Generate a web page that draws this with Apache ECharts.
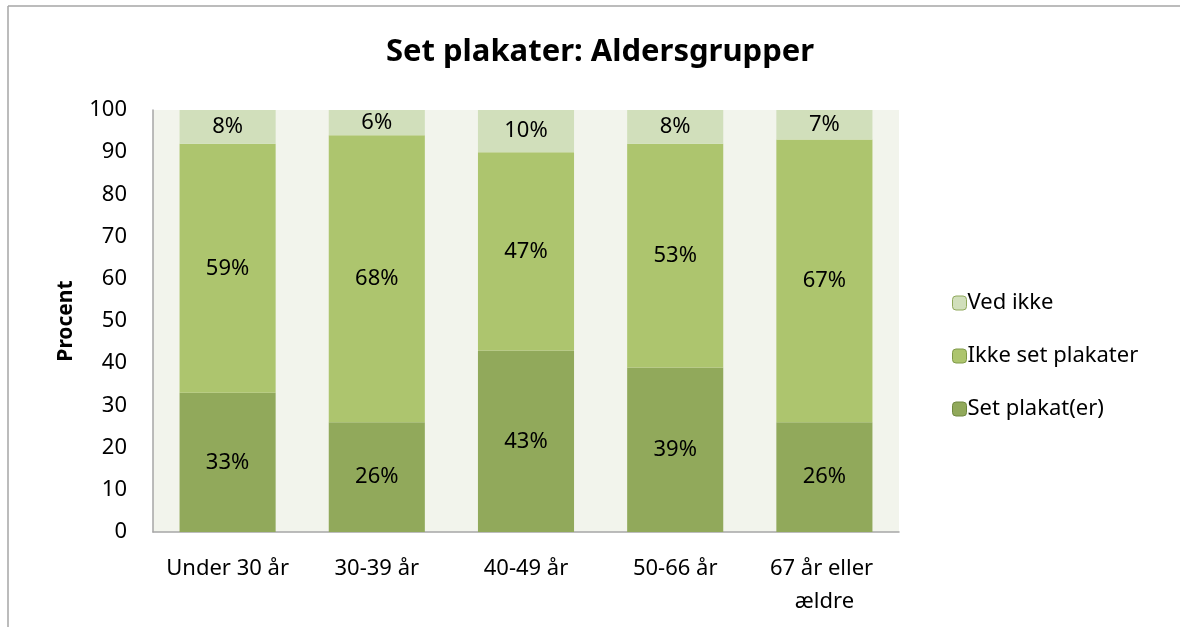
<!DOCTYPE html>
<html>
<head>
<meta charset="utf-8">
<script src="https://cdn.jsdelivr.net/npm/echarts@6/dist/echarts.min.js"></script>
<style>
html,body{margin:0;padding:0;background:#fff;}
#chart{width:1180px;height:627px;}
</style>
</head>
<body>
<div id="chart"></div>
<script>
const categories = ["Under 30 år", "30-39 år", "40-49 år", "50-66 år", "67 år eller ældre"];
const setPlakat = [33, 26, 43, 39, 26];
const ikkeSet = [59, 68, 47, 53, 67];
const vedIkke = [8, 6, 10, 8, 7];
const yTicks = [0, 10, 20, 30, 40, 50, 60, 70, 80, 90, 100];

const FONT = "'Noto Sans', 'Open Sans', sans-serif";
const FS = 22;
const chart = echarts.init(document.getElementById('chart'));

function mkSeries(name, data, color) {
  return {
    name: name,
    type: 'bar',
    stack: 'total',
    data: data,
    barWidth: '64.4%',
    itemStyle: { color: color },
    label: {
      show: true,
      position: 'inside',
      formatter: p => p.value + '%',
      color: '#000',
      fontFamily: FONT,
      fontSize: FS
    },
    emphasis: { disabled: true }
  };
}

chart.setOption({
  backgroundColor: '#fff',
  animation: false,
  title: {
    text: 'Set plakater: Aldersgrupper',
    left: 595,
    top: 32,
    textAlign: 'center',
    textStyle: { fontFamily: FONT, fontSize: 31, fontWeight: 'bold', color: '#000' }
  },
  graphic: [
    { type: 'line', shape: { x1: 8, y1: 6, x2: 1180, y2: 6 }, style: { stroke: '#a6a6a6', lineWidth: 1.5 } },
    { type: 'line', shape: { x1: 8, y1: 6, x2: 8, y2: 627 }, style: { stroke: '#a6a6a6', lineWidth: 1.5 } }
  ],
  legend: {
    orient: 'vertical',
    left: 947,
    top: 287,
    itemWidth: 14,
    itemHeight: 14,
    itemGap: 31,
    data: [
      { name: 'Ved ikke', itemStyle: { borderColor: '#8fa85a', borderWidth: 1 } },
      { name: 'Ikke set plakater', itemStyle: { borderColor: '#7f9948', borderWidth: 1 } },
      { name: 'Set plakat(er)', itemStyle: { borderColor: '#6f8840', borderWidth: 1 } }
    ],
    textStyle: { fontFamily: FONT, fontSize: FS, color: '#000', padding: [0, 0, 0, -4] }
  },
  grid: {
    left: 153, right: 281, top: 110, bottom: 95,
    show: true, backgroundColor: '#f2f4ec', borderWidth: 0
  },
  xAxis: {
    type: 'category',
    data: categories,
    axisLine: { lineStyle: { color: '#a6a6a6', width: 1.5 } },
    axisTick: { show: false },
    axisLabel: {
      interval: 0,
      margin: 20,
      width: 145,
      overflow: 'break',
      lineHeight: 33,
      color: '#000',
      fontFamily: FONT,
      fontSize: FS
    }
  },
  yAxis: {
    type: 'value',
    min: 0,
    max: 100,
    interval: 10,
    name: 'Procent',
    nameLocation: 'middle',
    nameGap: 76,
    nameTextStyle: { fontFamily: FONT, fontSize: 21, fontWeight: 'bold', color: '#000' },
    axisLine: { show: true, lineStyle: { color: '#a6a6a6', width: 1.5 } },
    axisTick: { show: false },
    splitLine: { show: false },
    axisLabel: {
      margin: 26,
      color: '#000',
      fontFamily: FONT,
      fontSize: FS,
      formatter: v => yTicks.includes(v) ? String(v) : ''
    }
  },
  series: [
    mkSeries('Set plakat(er)', setPlakat, '#91a95b'),
    mkSeries('Ikke set plakater', ikkeSet, '#adc56e'),
    mkSeries('Ved ikke', vedIkke, '#d1dfbb')
  ]
});
</script>
</body>
</html>
